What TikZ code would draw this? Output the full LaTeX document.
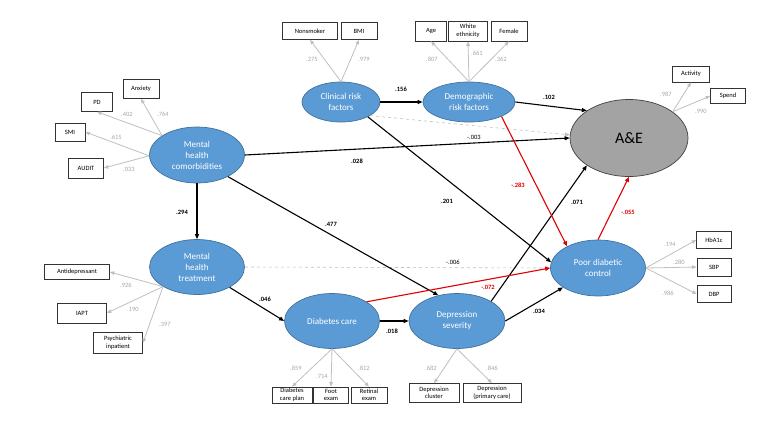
\documentclass[tikz,border=0pt]{standalone}
\usepackage{fontspec}
\setmainfont{Carlito}
\usetikzlibrary{arrows.meta,shapes.geometric}

\definecolor{latblue}{HTML}{5B9BD5}
\definecolor{latedge}{HTML}{41719C}
\definecolor{indgray}{HTML}{BFBFBF}
\definecolor{valgray}{HTML}{A6A6A6}
\definecolor{pathred}{HTML}{E00000}
\definecolor{aegray}{HTML}{A3A3A3}

\tikzset{
  latent/.style={ellipse, draw=latedge, fill=latblue, line width=0.7pt, text=white,
    font=\fontsize{9}{11}\selectfont, align=center, inner sep=0pt},
  obsbox/.style={draw=black!80, line width=0.6pt, inner sep=0.5pt, align=center,
    font=\fontsize{6.5}{7.5}\selectfont},
  causal/.style={draw=black, line width=1.1pt, -{Triangle[length=5pt,width=4pt]}},
  negpath/.style={draw=pathred, line width=1.1pt, -{Triangle[length=5pt,width=4pt]}},
  nonsig/.style={draw=indgray, line width=0.6pt, dashed, -{Triangle[length=5pt,width=4pt]}},
  loading/.style={draw=indgray, line width=0.8pt, -{Triangle[length=4.5pt,width=3.5pt]}},
  val/.style={text=valgray, font=\fontsize{6.5}{7}\selectfont, inner sep=0pt},
  coef/.style={text=black, font=\fontsize{6.5}{7}\selectfont\bfseries, inner sep=0pt},
  nscoef/.style={text=black, font=\fontsize{6.5}{7}\selectfont, inner sep=0pt},
  redcoef/.style={text=pathred, font=\fontsize{6.5}{7}\selectfont\bfseries, inner sep=0pt}
}

\begin{document}
\begin{tikzpicture}[x=1pt, y=-1pt]
    \useasboundingbox (0,0) rectangle (773,426);

    % Latent variables
    \node[latent, minimum width=95, minimum height=56] (mhc) at (197,155) {Mental\\health\\comorbidities};
    \node[latent, minimum width=95, minimum height=55] (mht) at (197,267) {Mental\\health\\treatment};
    \node[latent, minimum width=78, minimum height=40] (crf) at (341,102) {Clinical risk\\factors};
    \node[latent, minimum width=92, minimum height=40] (drf) at (469,102) {Demographic\\risk factors};
    \node[latent, minimum width=95, minimum height=55] (dc) at (332,321) {Diabetes care};
    \node[latent, minimum width=96, minimum height=55] (ds) at (457,321) {Depression\\severity};
    \node[latent, minimum width=95, minimum height=56] (pdc) at (598,268) {Poor diabetic\\control};
    \node[latent, draw=black!75, fill=aegray, text=black, font=\fontsize{16}{18}\selectfont,
      minimum width=118, minimum height=77] (ae) at (629,138) {A\&E};

    % Indicators
    \node[obsbox, minimum width=36, minimum height=19] (anx) at (141,89) {Anxiety};
    \node[obsbox, minimum width=31, minimum height=19] (pd) at (97,102) {PD};
    \node[obsbox, minimum width=30, minimum height=18] (smi) at (70,132) {SMI};
    \node[obsbox, minimum width=35, minimum height=20] (audit) at (86,168) {AUDIT};
    \node[obsbox, minimum width=55, minimum height=17] (nonsmk) at (310,31) {Nonsmoker};
    \node[obsbox, minimum width=36, minimum height=17] (bmi) at (359,31) {BMI};
    \node[obsbox, minimum width=31, minimum height=20] (age) at (431,31) {Age};
    \node[obsbox, minimum width=39, minimum height=20] (white) at (468,31) {White\\ethnicity};
    \node[obsbox, minimum width=36, minimum height=20] (female) at (509,31) {Female};
    \node[obsbox, minimum width=37, minimum height=16] (activity) at (691,74) {Activity};
    \node[obsbox, minimum width=35, minimum height=15] (spend) at (728,96) {Spend};
    \node[obsbox, minimum width=65, minimum height=15] (antidep) at (77,272) {Antidepressant};
    \node[obsbox, minimum width=49, minimum height=20] (iapt) at (82,313) {IAPT};
    \node[obsbox, minimum width=49, minimum height=21] (psych) at (118,343) {Psychiatric\\inpatient};
    \node[obsbox, minimum width=35, minimum height=17] (hba1c) at (714,240) {HbA1c};
    \node[obsbox, minimum width=34, minimum height=18] (sbp) at (714,267) {SBP};
    \node[obsbox, minimum width=34, minimum height=17] (dbp) at (714,294) {DBP};
    \node[obsbox, minimum width=40, minimum height=16] (careplan) at (292,395) {Diabetes\\care plan};
    \node[obsbox, minimum width=35, minimum height=16] (foot) at (331,395) {Foot\\exam};
    \node[obsbox, minimum width=36, minimum height=16] (retinal) at (369,395) {Retinal\\exam};
    \node[obsbox, minimum width=50, minimum height=19] (depclus) at (434,393) {Depression\\cluster};
    \node[obsbox, minimum width=58, minimum height=19] (depprim) at (492,393) {Depression\\(primary care)};

    % Loadings
    \draw[loading] (mhc.151) -- (anx.south);
    \draw[loading] (mhc.151) -- (pd.south);
    \draw[loading] (mhc.181) -- (smi.east);
    \draw[loading] (mhc.181) -- (audit.east);
    \draw[loading] (crf.north) -- (nonsmk.south);
    \draw[loading] (crf.north) -- (bmi.south);
    \draw[loading] (drf.north) -- (age.south);
    \draw[loading] (drf.north) -- (white.south);
    \draw[loading] (drf.north) -- (female.south);
    \draw[loading] (ae.31) -- (activity.south);
    \draw[loading] (ae.31) -- (spend.west);
    \draw[loading] (mht.210) -- (antidep.east);
    \draw[loading] (mht.210) -- (iapt.east);
    \draw[loading] (mht.210) -- (psych.east);
    \draw[loading] (pdc.east) -- (hba1c.west);
    \draw[loading] (pdc.east) -- (sbp.west);
    \draw[loading] (pdc.east) -- (dbp.west);
    \draw[loading] (dc.south) -- (careplan.north);
    \draw[loading] (dc.south) -- (foot.north);
    \draw[loading] (dc.south) -- (retinal.north);
    \draw[loading] (ds.south) -- (depclus.north);
    \draw[loading] (ds.south) -- (depprim.north);

    \node[val] (v764) at (163,114) {.764};
    \node[val] (v402) at (127,114) {.402};
    \node[val] (v615) at (116,137) {.615};
    \node[val] (v033) at (129,169) {.033};
    \node[val] (v275) at (312,59) {.275};
    \node[val] (v979) at (364,59) {.979};
    \node[val] (v807) at (432,59) {.807};
    \node[val] (v661) at (477,53) {.661};
    \node[val] (v362) at (501,59) {.362};
    \node[val] (v987) at (666,94) {.987};
    \node[val] (v990) at (701,111) {.990};
    \node[val] (v926) at (126,285) {.926};
    \node[val] (v190) at (133,309) {.190};
    \node[val] (v397) at (165,324) {.397};
    \node[val] (v194) at (670,244) {.194};
    \node[val] (v280) at (679,262) {.280};
    \node[val] (v986) at (668,293) {.986};
    \node[val] (v859) at (296,368) {.859};
    \node[val] (v714) at (322,376) {.714};
    \node[val] (v812) at (364,368) {.812};
    \node[val] (v682) at (431,368) {.682};
    \node[val] (v846) at (492,368) {.846};

    % Structural paths
    \draw[nonsig] (crf.-25) -- (ae.177);
    \draw[nonsig] (mht.east) -- (pdc.west);
    \draw[causal] (mhc.east) -- (ae.west);
    \draw[causal] (mhc.south) -- (mht.north);
    \draw[causal] (mhc.-35) -- (ds.126);
    \draw[causal] (crf.east) -- (drf.west);
    \draw[causal] (crf.-29) -- (pdc.173);
    \draw[causal] (drf.east) -- (ae.147);
    \draw[causal] (mht.-32) -- (dc.west);
    \draw[causal] (dc.east) -- (ds.west);
    \draw[causal] (ds.30) -- (ae.213);
    \draw[causal] (ds.east) -- (pdc.209);
    \draw[negpath] (drf.-24) -- (pdc.145);
    \draw[negpath] (dc.29) -- (pdc.west);
    \draw[negpath] (pdc.north) -- (ae.south);

    \node[coef] (c156) at (401,89) {.156};
    \node[coef] (c102) at (549,97) {.102};
    \node[nscoef] (c003) at (474,137) {-.003};
    \node[coef] (c028) at (357,161) {.028};
    \node[coef] (c294) at (182,212) {.294};
    \node[coef] (c477) at (331,224) {.477};
    \node[coef] (c201) at (447,201) {.201};
    \node[redcoef] (c283) at (518,185) {-.283};
    \node[coef] (c071) at (577,202) {.071};
    \node[coef] (c046) at (265,299) {.046};
    \node[nscoef] (c006) at (453,262) {-.006};
    \node[coef] (c018) at (392,331) {.018};
    \node[redcoef] (c072) at (488,287) {-.072};
    \node[coef] (c034) at (539,311) {.034};
    \node[redcoef] (c055) at (628,212) {-.055};
\end{tikzpicture}
\end{document}
